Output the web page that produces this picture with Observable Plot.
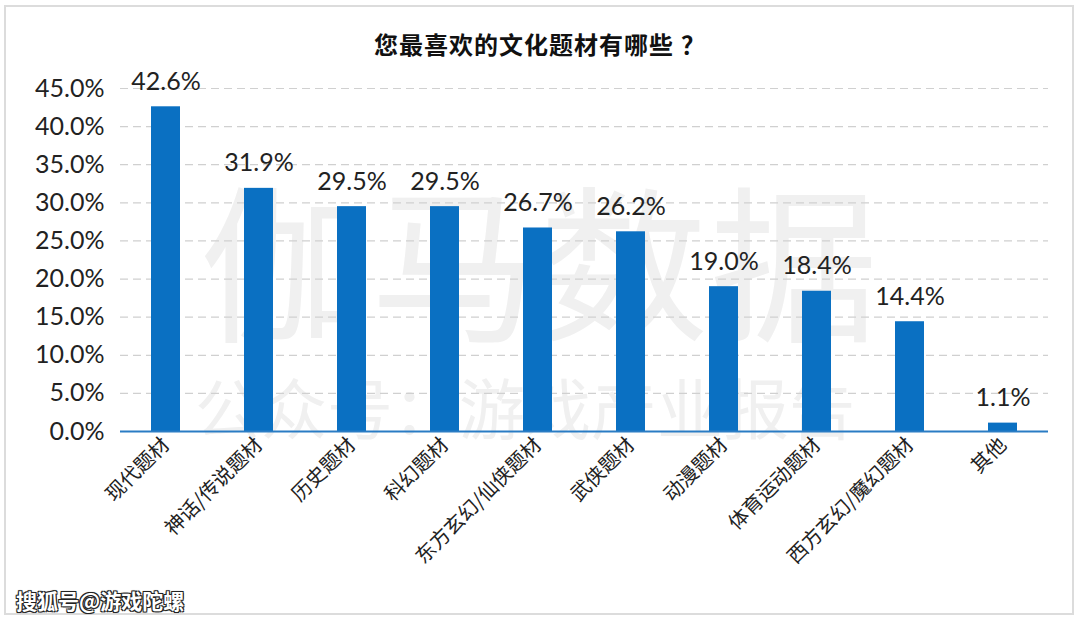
<!DOCTYPE html>
<html>
<head>
<meta charset="utf-8">
<script src="https://cdn.jsdelivr.net/npm/d3@7"></script>
<script src="https://cdn.jsdelivr.net/npm/@observablehq/plot@0.6"></script>
<style>
  html, body { margin: 0; padding: 0; background: #fff; }
  #wrap { position: relative; width: 1080px; height: 623px; overflow: hidden; }
  #frame { position: absolute; left: 4px; top: 5px; width: 1070px; height: 610px; border: 2px solid #dcdcdc; box-sizing: border-box; }
  #title { position: absolute; left: 0; width: 1080px; top: 26px; text-align: center; font-family: "Noto Sans CJK SC", sans-serif; font-weight: bold; font-size: 24px; letter-spacing: 1px; color: #111; }
  #title .q { margin-left: 7px; }
  .wm { position: absolute; font-family: "Noto Sans CJK SC", sans-serif; color: #f0f0f0; white-space: nowrap; }
  #wm1 { left: 200px; top: 172px; font-size: 168px; font-weight: normal; letter-spacing: 2px; line-height: 1; }
  #wm2 { left: 195px; top: 372px; font-size: 66px; line-height: 1; }
  #foot { position: absolute; left: 16px; top: 585px; font-family: "Noto Sans CJK SC", sans-serif; font-weight: bold; font-size: 21px; color: #fff;
          text-shadow: -1px -1px 0 #222, 1px -1px 0 #222, -1px 1px 0 #222, 1px 1px 0 #222, 0 0 2px #000; }
  #chart { position: absolute; left: 0; top: 0; }
</style>
</head>
<body>
<div id="wrap">
  <div class="wm" id="wm1">伽马数据</div>
  <div class="wm" id="wm2">公众号：游戏产业报告</div>
  <div id="chart"></div>
  <div id="frame"></div>
  <div id="title">您最喜欢的文化题材有哪些<span class="q">？</span></div>
  <div id="foot">搜狐号@游戏陀螺</div>
</div>
<script>
const categories = ["现代题材", "神话/传说题材", "历史题材", "科幻题材", "东方玄幻/仙侠题材", "武侠题材", "动漫题材", "体育运动题材", "西方玄幻/魔幻题材", "其他"];
const values = [42.6, 31.9, 29.5, 29.5, 26.7, 26.2, 19.0, 18.4, 14.4, 1.1];
const yTicks = [0, 5, 10, 15, 20, 25, 30, 35, 40, 45];

const data = categories.map((c, i) => ({category: c, value: values[i]}));
const fmt = d => d.toFixed(1) + "%";

const plot = Plot.plot({
  width: 1080,
  height: 623,
  marginLeft: 120,
  marginRight: 32,
  marginTop: 88,
  marginBottom: 192,
  style: {fontFamily: "Lato, sans-serif", background: "transparent"},
  x: {domain: categories, paddingInner: 0.69, paddingOuter: 0.32, label: null},
  y: {domain: [0, 45], label: null},
  marks: [
    Plot.gridY(yTicks.filter(d => d > 0), {stroke: "#d0d0d0", strokeOpacity: 1, strokeWidth: 1.2, strokeDasharray: "8,5"}),
    Plot.axisY(yTicks, {tickFormat: fmt, tickSize: 0, tickPadding: 16, fontSize: 25, fill: "#222", label: null}),
    Plot.axisX({tickRotate: -45, tickSize: 0, tickPadding: 10, fontSize: 20, fill: "#222", fontFamily: "Noto Sans CJK SC, sans-serif", label: null}),
    Plot.barY(data, {x: "category", y: "value", fill: "#0a70c2"}),
    Plot.ruleY([0], {stroke: "#2a7cc4", strokeWidth: 2}),
    Plot.text(data, {x: "category", y: "value", text: d => fmt(d.value), dy: -25, fontSize: 25, fill: "#222"})
  ]
});
document.getElementById("chart").appendChild(plot);
</script>
</body>
</html>
